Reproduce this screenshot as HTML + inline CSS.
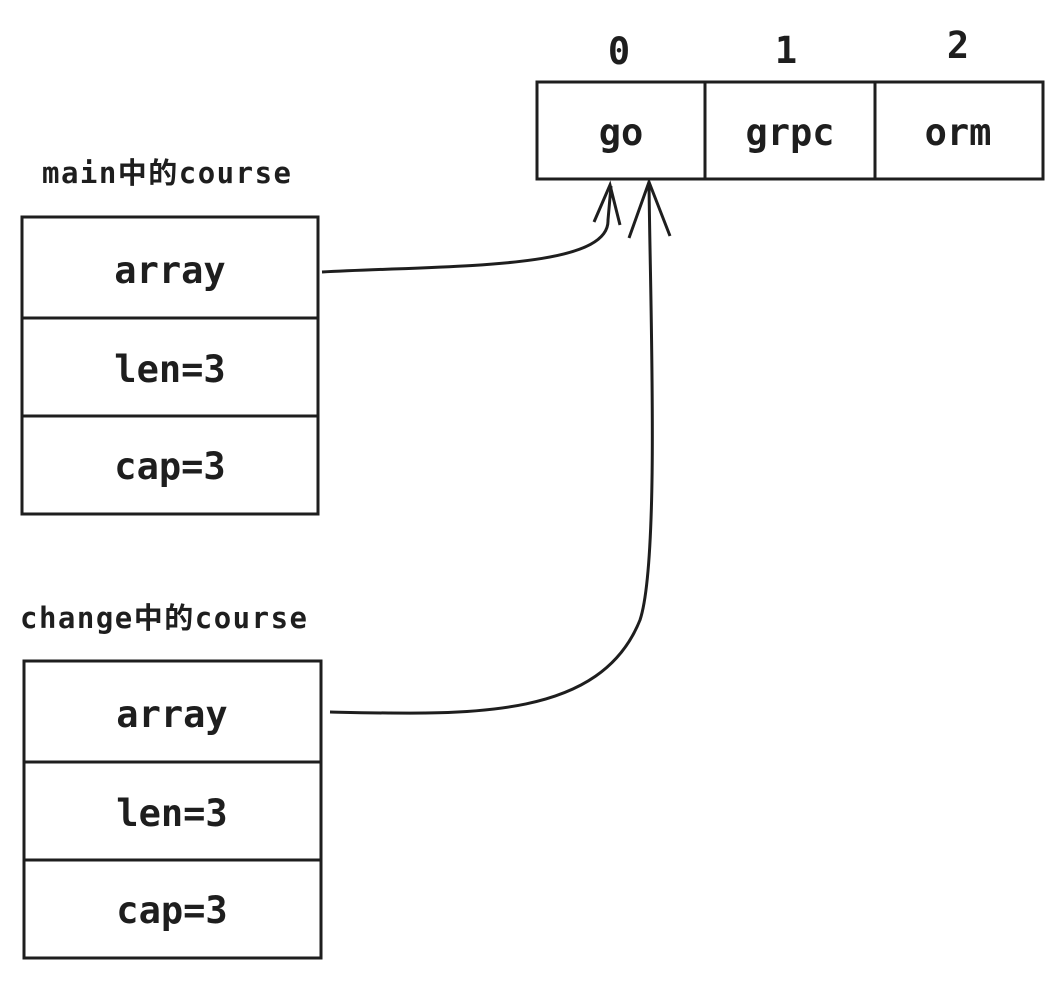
<!DOCTYPE html>
<html><head><style>
body{margin:0;background:#fff;width:1062px;height:977px;overflow:hidden}
svg text{font-family:"DejaVu Sans Mono","Liberation Mono","Noto Sans CJK SC",monospace;font-weight:bold;fill:#1e1e1e}
</style></head><body>
<svg width="1062" height="977" viewBox="0 0 1062 977">
<g fill="none" stroke="#1e1e1e" stroke-width="3">
<rect x="537" y="82" width="168" height="97"/>
<rect x="705" y="82" width="170" height="97"/>
<rect x="875" y="82" width="168" height="97"/>
<rect x="22" y="217" width="296" height="101"/>
<rect x="22" y="318" width="296" height="98"/>
<rect x="22" y="416" width="296" height="98"/>
<rect x="24" y="661" width="297" height="101"/>
<rect x="24" y="762" width="297" height="98"/>
<rect x="24" y="860" width="297" height="98"/>
<path d="M322 272 C450 265 610 270 608 220 L611 186"/>
<path d="M594 222 L610 185 L620 225"/>
<path d="M330 712 C470 715 600 720 640 620 C660 560 650 300 649 182"/>
<path d="M629 238 L649 182 L670 236"/>
</g>
<g font-size="37" text-anchor="middle">
<text x="619" y="64">0</text>
<text x="786" y="63">1</text>
<text x="958" y="58">2</text>
<text x="621" y="145">go</text>
<text x="790" y="145">grpc</text>
<text x="958" y="145">orm</text>
<text x="170" y="283">array</text>
<text x="170" y="382">len=3</text>
<text x="170" y="479">cap=3</text>
<text x="172" y="727">array</text>
<text x="172" y="826">len=3</text>
<text x="172" y="923">cap=3</text>
</g>
<g font-size="29">
<text x="42" y="183" textLength="249">main中的course</text>
<text x="20" y="628" textLength="287">change中的course</text>
</g>
</svg>
</body></html>
